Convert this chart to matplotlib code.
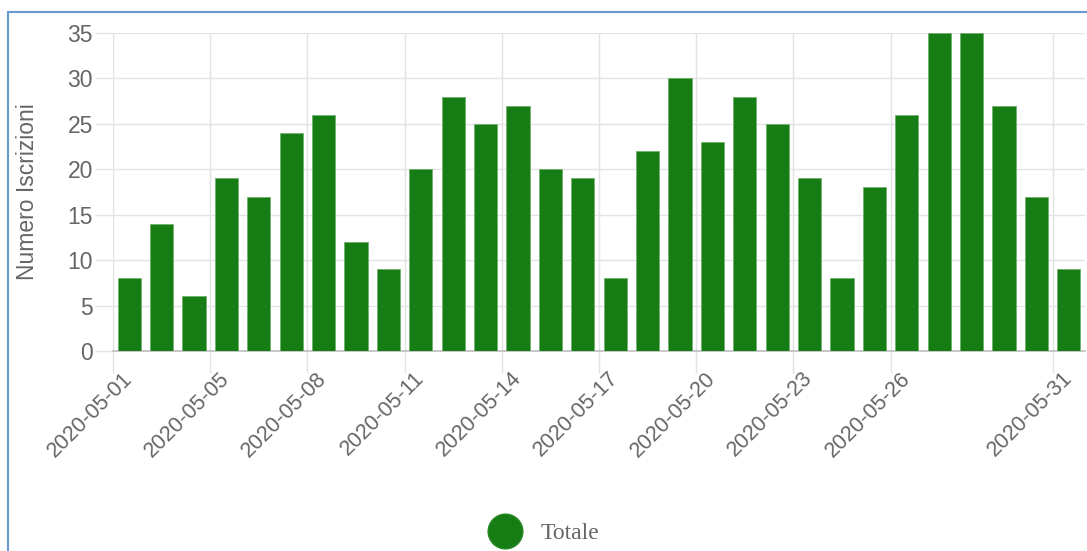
import matplotlib
matplotlib.use("Agg")
import matplotlib.pyplot as plt
from matplotlib.patches import Rectangle
from matplotlib.lines import Line2D

# ---- data ----
dates = ["2020-05-01", "2020-05-02", "2020-05-04"] + [f"2020-05-{d:02d}" for d in range(5, 32)]
values = [8, 14, 6, 19, 17, 24, 26, 12, 9, 20, 28, 25, 27, 20, 19, 8, 22, 30, 23, 28,
          25, 19, 8, 18, 26, 35, 35, 27, 17, 9]
shown_labels = ["2020-05-01", "2020-05-05", "2020-05-08", "2020-05-11", "2020-05-14",
                "2020-05-17", "2020-05-20", "2020-05-23", "2020-05-26", "2020-05-31"]
y_ticks = [0, 5, 10, 15, 20, 25, 30, 35]
series_name = "Totale"
y_label = "Numero Iscrizioni"

# ---- style ----
bar_color = "#167C14"
grid_color = "#e3e3e3"
text_color = "#666666"

plt.rcParams["font.family"] = ["Liberation Sans", "DejaVu Sans"]

fig = plt.figure(figsize=(10.87, 5.51), dpi=100)
W, H = 1087, 551
ax = fig.add_axes([113 / W, 1 - 351 / H, (1085 - 113) / W, (351 - 33) / H])

x = list(range(len(values)))
ax.bar(x, values, width=0.72, color=bar_color, edgecolor="#6fb06c", linewidth=0.6, zorder=3)

ax.set_xlim(-0.5, len(values) - 0.5)
ax.set_ylim(0, 35)

# y axis
ax.set_yticks(y_ticks)
ax.set_yticklabels([str(v) for v in y_ticks], fontsize=16.5, color=text_color)
ax.tick_params(axis="y", length=13, color=grid_color, width=1, pad=1.5)
ax.grid(axis="y", color=grid_color, linewidth=1, zorder=0)

# x axis: labels at bar centers, grid lines at left edges of labelled bars
idx = [dates.index(d) for d in shown_labels]
ax.set_xticks(idx)
ax.set_xticklabels(shown_labels, rotation=45, ha="right", va="center", rotation_mode="anchor",
                   fontsize=15.5, color=text_color)
ax.tick_params(axis="x", which="major", length=0, pad=17.5)
ax.set_xticks([i - 0.5 for i in idx], minor=True)
ax.tick_params(axis="x", which="minor", length=16, color=grid_color, width=1)
ax.grid(axis="x", which="minor", color=grid_color, linewidth=1, zorder=0)

for s in ["top", "right"]:
    ax.spines[s].set_visible(False)
ax.spines["left"].set_color(grid_color)
ax.spines["bottom"].set_color("#bdbdbd")
ax.spines["bottom"].set_linewidth(1.2)

fig.text(28 / W, 1 - 192 / H, y_label, rotation=90, ha="center", va="center",
         fontsize=16.5, color=text_color)

# legend
handle = Line2D([], [], marker="o", linestyle="none", markersize=25,
                markerfacecolor=bar_color, markeredgecolor="#2a8a27")
leg = fig.legend([handle], [series_name], loc="center", bbox_to_anchor=(540 / W, 1 - 533 / H),
                 frameon=False, handletextpad=0.5,
                 prop={"family": "Liberation Serif", "size": 17})
for t in leg.get_texts():
    t.set_color(text_color)

# outer blue frame
fig.patches.append(Rectangle((8 / W, -0.05), 1.1, 1 - 12 / H + 0.05, transform=fig.transFigure,
                             fill=False, edgecolor="#6a98d0", linewidth=1.5))

fig.savefig("out.png", dpi=100)
